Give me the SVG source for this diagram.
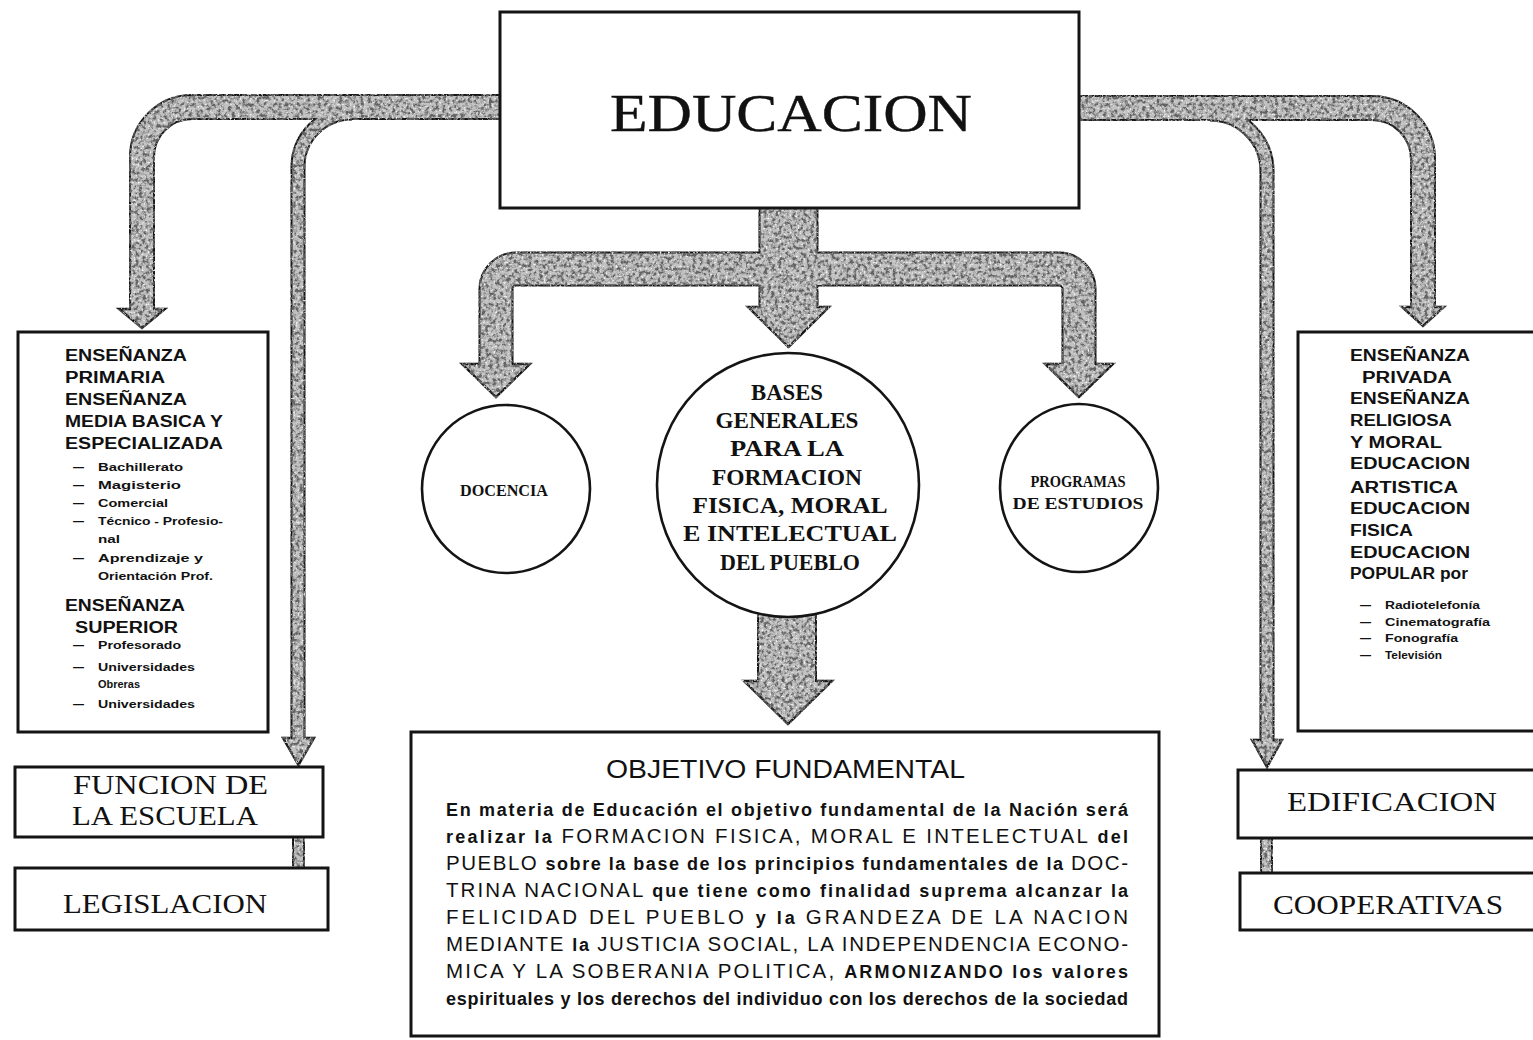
<svg xmlns="http://www.w3.org/2000/svg" width="1533" height="1040" viewBox="0 0 1533 1040">
<defs>
<style>
.box{fill:#fff;stroke:#141414;stroke-width:3}
.circ{fill:#fff;stroke:#141414;stroke-width:2.6}
.o{fill:none;stroke:#161616;stroke-linecap:butt;stroke-linejoin:round}
.i{fill:none;stroke:#c2c2c2;stroke-linecap:butt;stroke-linejoin:round}
.hd{fill:#c2c2c2;stroke:#161616;stroke-width:2.4;stroke-linejoin:miter}
.serif{font-family:'Liberation Serif','Times New Roman',serif;fill:#111}
.sans{font-family:'Liberation Sans',Arial,sans-serif;fill:#111}
.h{font-family:'Liberation Sans',Arial,sans-serif;font-weight:bold;font-size:16px;fill:#111}
.s{font-family:'Liberation Sans',Arial,sans-serif;font-weight:bold;font-size:11px;fill:#111}
.big{font-family:'Liberation Serif','Times New Roman',serif;font-size:28px;fill:#111}
.cb{font-family:'Liberation Serif','Times New Roman',serif;font-weight:bold;fill:#111}
.b{font-weight:bold}
.c{font-size:20.5px}
</style>
<filter id="grain" filterUnits="userSpaceOnUse" x="0" y="0" width="1533" height="1040">
<feTurbulence type="fractalNoise" baseFrequency="0.28" numOctaves="4" seed="11" result="noise"/>
<feColorMatrix in="noise" type="matrix" values="0 0 0 0 0.12  0 0 0 0 0.12  0 0 0 0 0.12  0 0 0 3.6 -1.5" result="spots"/>
<feComposite in="spots" in2="SourceAlpha" operator="in" result="tex"/>
<feTurbulence type="fractalNoise" baseFrequency="0.5" numOctaves="2" seed="3" result="noise2"/>
<feColorMatrix in="noise2" type="matrix" values="0 0 0 0 1  0 0 0 0 1  0 0 0 0 1  0 0 0 4 -2.3" result="white"/>
<feComposite in="white" in2="SourceAlpha" operator="in" result="wtex"/>
<feMerge><feMergeNode in="SourceGraphic"/><feMergeNode in="wtex"/><feMergeNode in="tex"/></feMerge>
</filter>
</defs>
<rect width="1533" height="1040" fill="#fff"/>

<g id="connectors" filter="url(#grain)">
  <path class="o" stroke-width="26" d="M502 107 H192 A50 50 0 0 0 142 157 V310"/>
  <path class="o" stroke-width="15" d="M352 113 A54 54 0 0 0 298 167 V739"/>
  <path class="o" stroke-width="26" d="M1077 108 H1372 A51 51 0 0 1 1423 159 V308"/>
  <path class="o" stroke-width="15" d="M1210 114 A57 57 0 0 1 1267 171 V741"/>
  <path class="o" stroke-width="60" d="M788.5 206 V309"/>
  <path class="o" stroke-width="35" d="M496 366 V289 A20 20 0 0 1 516 269 H1059 A20 20 0 0 1 1079 289 V366"/>
  <path class="o" stroke-width="60" d="M787 605 V682"/>
  <path class="o" stroke-width="13" d="M298.5 834 V870"/>
  <path class="o" stroke-width="13" d="M1266.5 836 V874"/>
  <polygon class="hd" points="119,309 165,309 142,328"/>
  <polygon class="hd" points="283,738 314,738 298.5,765"/>
  <polygon class="hd" points="1402,307 1444,307 1423,326"/>
  <polygon class="hd" points="1252,740 1282,740 1267,767"/>
  <polygon class="hd" points="748,307 829,307 788.5,347"/>
  <polygon class="hd" points="462,364 530,364 496,397"/>
  <polygon class="hd" points="1045,364 1113,364 1079,397"/>
  <polygon class="hd" points="744,681 832,681 788,724"/>
  <path class="i" stroke-width="22" d="M502 107 H192 A50 50 0 0 0 142 157 V311"/>
  <path class="i" stroke-width="11" d="M352 113 A54 54 0 0 0 298 167 V740"/>
  <path class="i" stroke-width="22" d="M1077 108 H1372 A51 51 0 0 1 1423 159 V309"/>
  <path class="i" stroke-width="11" d="M1210 114 A57 57 0 0 1 1267 171 V742"/>
  <path class="i" stroke-width="31" d="M496 367 V289 A20 20 0 0 1 516 269 H1059 A20 20 0 0 1 1079 289 V367"/>
  <path class="i" stroke-width="56" d="M788.5 206 V310"/>
  <path class="i" stroke-width="56" d="M787 605 V683"/>
  <path class="i" stroke-width="9" d="M298.5 834 V870"/>
  <path class="i" stroke-width="9" d="M1266.5 836 V874"/>
</g>

<g id="educacion">
  <rect class="box" x="500" y="12" width="579" height="196" stroke-width="4"/>
  <text class="serif" x="610" y="131" font-size="52" stroke="#111" stroke-width="0.4" textLength="362" lengthAdjust="spacingAndGlyphs">EDUCACION</text>
</g>

<g id="docencia">
  <ellipse class="circ" cx="506" cy="489" rx="84" ry="84"/>
  <text class="cb" x="504" y="496" font-size="16.5" text-anchor="middle" textLength="88" lengthAdjust="spacingAndGlyphs">DOCENCIA</text>
</g>

<g id="bases">
  <ellipse class="circ" cx="788" cy="485" rx="131" ry="132"/>
  <g class="cb" font-size="23" text-anchor="middle">
    <text x="787" y="400" textLength="72" lengthAdjust="spacingAndGlyphs">BASES</text>
    <text x="787" y="428" textLength="143" lengthAdjust="spacingAndGlyphs">GENERALES</text>
    <text x="787" y="456" textLength="114" lengthAdjust="spacingAndGlyphs">PARA LA</text>
    <text x="787" y="485" textLength="150" lengthAdjust="spacingAndGlyphs">FORMACION</text>
    <text x="790" y="513" textLength="195" lengthAdjust="spacingAndGlyphs">FISICA, MORAL</text>
    <text x="790" y="541" textLength="214" lengthAdjust="spacingAndGlyphs">E INTELECTUAL</text>
    <text x="790" y="570" textLength="140" lengthAdjust="spacingAndGlyphs">DEL PUEBLO</text>
  </g>
</g>

<g id="programas">
  <ellipse class="circ" cx="1079" cy="488" rx="79" ry="84"/>
  <text class="cb" x="1078" y="487" font-size="16" text-anchor="middle" textLength="95" lengthAdjust="spacingAndGlyphs">PROGRAMAS</text>
  <text class="cb" x="1078" y="509" font-size="16" text-anchor="middle" textLength="131" lengthAdjust="spacingAndGlyphs">DE ESTUDIOS</text>
</g>

<g id="ensenanza-oficial">
  <rect class="box" x="18" y="332" width="250" height="400"/>
  <text class="h" x="65" y="361" textLength="122" lengthAdjust="spacingAndGlyphs">ENSEÑANZA</text>
  <text class="h" x="65" y="383" textLength="100" lengthAdjust="spacingAndGlyphs">PRIMARIA</text>
  <text class="h" x="65" y="405" textLength="122" lengthAdjust="spacingAndGlyphs">ENSEÑANZA</text>
  <text class="h" x="65" y="427" textLength="158" lengthAdjust="spacingAndGlyphs">MEDIA BASICA Y</text>
  <text class="h" x="65" y="449" textLength="158" lengthAdjust="spacingAndGlyphs">ESPECIALIZADA</text>
  <g class="s">
    <text x="73" y="471">—</text><text x="98" y="471" textLength="85" lengthAdjust="spacingAndGlyphs">Bachillerato</text>
    <text x="73" y="489">—</text><text x="98" y="489" textLength="83" lengthAdjust="spacingAndGlyphs">Magisterio</text>
    <text x="73" y="507">—</text><text x="98" y="507" textLength="70" lengthAdjust="spacingAndGlyphs">Comercial</text>
    <text x="73" y="525">—</text><text x="98" y="525" textLength="125" lengthAdjust="spacingAndGlyphs">Técnico - Profesio-</text>
    <text x="98" y="543" textLength="22" lengthAdjust="spacingAndGlyphs">nal</text>
    <text x="73" y="562">—</text><text x="98" y="562" textLength="105" lengthAdjust="spacingAndGlyphs">Aprendizaje y</text>
    <text x="98" y="580" textLength="115" lengthAdjust="spacingAndGlyphs">Orientación Prof.</text>
  </g>
  <text class="h" x="65" y="611" textLength="120" lengthAdjust="spacingAndGlyphs">ENSEÑANZA</text>
  <text class="h" x="75" y="633" textLength="103" lengthAdjust="spacingAndGlyphs">SUPERIOR</text>
  <g class="s">
    <text x="73" y="649">—</text><text x="98" y="649" textLength="83" lengthAdjust="spacingAndGlyphs">Profesorado</text>
    <text x="73" y="671">—</text><text x="98" y="671" textLength="97" lengthAdjust="spacingAndGlyphs">Universidades</text>
    <text x="98" y="688" textLength="42" lengthAdjust="spacingAndGlyphs">Obreras</text>
    <text x="73" y="708">—</text><text x="98" y="708" textLength="97" lengthAdjust="spacingAndGlyphs">Universidades</text>
  </g>
</g>

<g id="ensenanza-privada">
  <rect class="box" x="1298" y="332" width="250" height="399"/>
  <text class="h" x="1350" y="361" textLength="120" lengthAdjust="spacingAndGlyphs">ENSEÑANZA</text>
  <text class="h" x="1362" y="383" textLength="90" lengthAdjust="spacingAndGlyphs">PRIVADA</text>
  <text class="h" x="1350" y="404" textLength="120" lengthAdjust="spacingAndGlyphs">ENSEÑANZA</text>
  <text class="h" x="1350" y="426" textLength="102" lengthAdjust="spacingAndGlyphs">RELIGIOSA</text>
  <text class="h" x="1350" y="448" textLength="92" lengthAdjust="spacingAndGlyphs">Y MORAL</text>
  <text class="h" x="1350" y="469" textLength="120" lengthAdjust="spacingAndGlyphs">EDUCACION</text>
  <text class="h" x="1350" y="493" textLength="108" lengthAdjust="spacingAndGlyphs">ARTISTICA</text>
  <text class="h" x="1350" y="514" textLength="120" lengthAdjust="spacingAndGlyphs">EDUCACION</text>
  <text class="h" x="1350" y="536" textLength="63" lengthAdjust="spacingAndGlyphs">FISICA</text>
  <text class="h" x="1350" y="558" textLength="120" lengthAdjust="spacingAndGlyphs">EDUCACION</text>
  <text class="h" x="1350" y="579" textLength="118" lengthAdjust="spacingAndGlyphs">POPULAR por</text>
  <g class="s">
    <text x="1360" y="609">—</text><text x="1385" y="609" textLength="95" lengthAdjust="spacingAndGlyphs">Radiotelefonía</text>
    <text x="1360" y="626">—</text><text x="1385" y="626" textLength="105" lengthAdjust="spacingAndGlyphs">Cinematografía</text>
    <text x="1360" y="642">—</text><text x="1385" y="642" textLength="73" lengthAdjust="spacingAndGlyphs">Fonografía</text>
    <text x="1360" y="659">—</text><text x="1385" y="659" textLength="57" lengthAdjust="spacingAndGlyphs">Televisión</text>
  </g>
</g>

<g id="funcion-escuela">
  <rect class="box" x="15" y="767" width="308" height="70"/>
  <text class="big" x="73" y="794" textLength="195" lengthAdjust="spacingAndGlyphs">FUNCION DE</text>
  <text class="big" x="72" y="825" textLength="186" lengthAdjust="spacingAndGlyphs">LA ESCUELA</text>
</g>

<g id="legislacion">
  <rect class="box" x="15" y="868" width="313" height="62"/>
  <text class="big" x="63" y="913" textLength="204" lengthAdjust="spacingAndGlyphs">LEGISLACION</text>
</g>

<g id="edificacion">
  <rect class="box" x="1238" y="770" width="310" height="68"/>
  <text class="big" x="1287" y="811" textLength="210" lengthAdjust="spacingAndGlyphs">EDIFICACION</text>
</g>

<g id="cooperativas">
  <rect class="box" x="1240" y="873" width="310" height="57"/>
  <text class="big" x="1273" y="914" textLength="230" lengthAdjust="spacingAndGlyphs">COOPERATIVAS</text>
</g>

<g id="objetivo">
  <rect class="box" x="411" y="732" width="748" height="304"/>
  <text class="sans" x="606" y="778" font-size="26" textLength="359" lengthAdjust="spacingAndGlyphs">OBJETIVO FUNDAMENTAL</text>
  <g class="sans" font-size="18">
    <text x="446" y="816" textLength="682" lengthAdjust="spacing"><tspan class="b">En materia de Educación el objetivo fundamental de la Nación será</tspan></text>
    <text x="446" y="843" textLength="682" lengthAdjust="spacing"><tspan class="b">realizar la </tspan><tspan class="c">FORMACION FISICA, MORAL E INTELECTUAL </tspan><tspan class="b">del</tspan></text>
    <text x="446" y="870" textLength="682" lengthAdjust="spacing"><tspan class="c">PUEBLO </tspan><tspan class="b">sobre la base de los principios fundamentales de la </tspan><tspan class="c">DOC-</tspan></text>
    <text x="446" y="897" textLength="682" lengthAdjust="spacing"><tspan class="c">TRINA NACIONAL </tspan><tspan class="b">que tiene como finalidad suprema alcanzar la</tspan></text>
    <text x="446" y="924" textLength="682" lengthAdjust="spacing"><tspan class="c">FELICIDAD DEL PUEBLO </tspan><tspan class="b">y la </tspan><tspan class="c">GRANDEZA DE LA NACION</tspan></text>
    <text x="446" y="951" textLength="682" lengthAdjust="spacing"><tspan class="c">MEDIANTE </tspan><tspan class="b">la </tspan><tspan class="c">JUSTICIA SOCIAL, LA INDEPENDENCIA ECONO-</tspan></text>
    <text x="446" y="978" textLength="682" lengthAdjust="spacing"><tspan class="c">MICA Y LA SOBERANIA POLITICA, </tspan><tspan class="b">ARMONIZANDO los valores</tspan></text>
    <text x="446" y="1005" textLength="682" lengthAdjust="spacing"><tspan class="b">espirituales y los derechos del individuo con los derechos de la sociedad</tspan></text>
  </g>
</g>
</svg>
